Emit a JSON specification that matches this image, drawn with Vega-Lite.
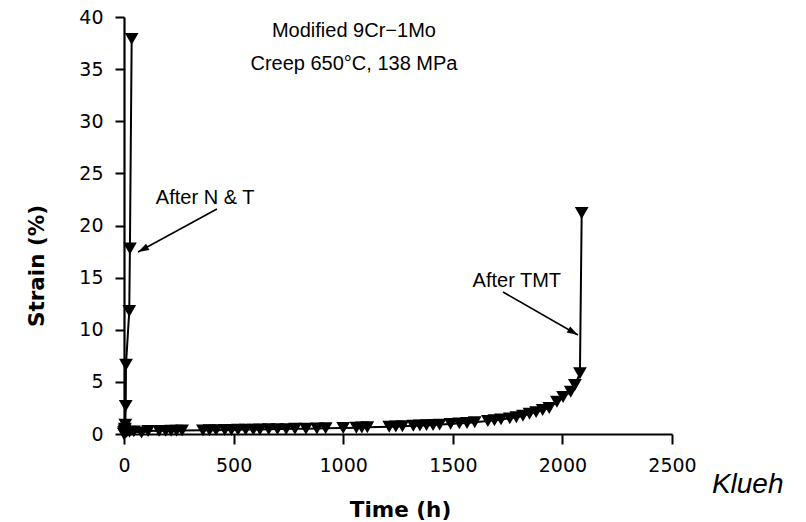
{
  "$schema": "https://vega.github.io/schema/vega-lite/v6.json",
  "width": 548,
  "height": 417,
  "autosize": {"type": "none"},
  "padding": {"left": 124, "top": 17, "right": 134, "bottom": 88},
  "background": "white",
  "config": {
    "view": {"stroke": null},
    "axis": {
      "grid": false,
      "domainColor": "black",
      "domainWidth": 2.2,
      "tickColor": "black",
      "tickWidth": 2,
      "labelColor": "black",
      "labelFont": "DejaVu Sans",
      "labelFontSize": 19,
      "labelFlush": false,
      "labelPadding": 12,
      "titleColor": "black",
      "titleFont": "DejaVu Sans",
      "titleFontWeight": "bold",
      "titleFontSize": 21.5,
      "titleAlign": "center",
      "titleBaseline": "alphabetic"
    },
    "axisX": {"tickSize": 10, "titleX": 276, "titleY": 82},
    "axisY": {"tickSize": 9, "titleAngle": 270, "titleX": -81, "titleY": 248.5}
  },
  "datasets": {
    "creep": [
      {"series": "N&T", "time": 0, "strain": 0},
      {"series": "N&T", "time": 1, "strain": 0.2},
      {"series": "N&T", "time": 2.5, "strain": 0.35},
      {"series": "N&T", "time": 4, "strain": 0.5},
      {"series": "N&T", "time": 6, "strain": 0.9},
      {"series": "N&T", "time": 7.8, "strain": 2.7},
      {"series": "N&T", "time": 9, "strain": 6.65},
      {"series": "N&T", "time": 24, "strain": 11.8},
      {"series": "N&T", "time": 27, "strain": 17.8},
      {"series": "N&T", "time": 35, "strain": 37.9},
      {"series": "TMT", "time": 0, "strain": 0.05},
      {"series": "TMT", "time": 5, "strain": 0.15},
      {"series": "TMT", "time": 12, "strain": 0.2},
      {"series": "TMT", "time": 25, "strain": 0.22},
      {"series": "TMT", "time": 45, "strain": 0.25},
      {"series": "TMT", "time": 80, "strain": 0.15},
      {"series": "TMT", "time": 110, "strain": 0.28},
      {"series": "TMT", "time": 160, "strain": 0.3},
      {"series": "TMT", "time": 190, "strain": 0.3},
      {"series": "TMT", "time": 215, "strain": 0.32},
      {"series": "TMT", "time": 240, "strain": 0.32},
      {"series": "TMT", "time": 265, "strain": 0.33},
      {"series": "TMT", "time": 360, "strain": 0.35},
      {"series": "TMT", "time": 390, "strain": 0.36},
      {"series": "TMT", "time": 420, "strain": 0.37},
      {"series": "TMT", "time": 460, "strain": 0.38},
      {"series": "TMT", "time": 490, "strain": 0.38},
      {"series": "TMT", "time": 520, "strain": 0.4},
      {"series": "TMT", "time": 555, "strain": 0.42},
      {"series": "TMT", "time": 590, "strain": 0.42},
      {"series": "TMT", "time": 620, "strain": 0.43},
      {"series": "TMT", "time": 660, "strain": 0.45},
      {"series": "TMT", "time": 700, "strain": 0.47},
      {"series": "TMT", "time": 740, "strain": 0.47},
      {"series": "TMT", "time": 780, "strain": 0.5},
      {"series": "TMT", "time": 830, "strain": 0.5},
      {"series": "TMT", "time": 880, "strain": 0.52},
      {"series": "TMT", "time": 920, "strain": 0.55},
      {"series": "TMT", "time": 1000, "strain": 0.58},
      {"series": "TMT", "time": 1060, "strain": 0.6},
      {"series": "TMT", "time": 1085, "strain": 0.62},
      {"series": "TMT", "time": 1110, "strain": 0.65},
      {"series": "TMT", "time": 1210, "strain": 0.7},
      {"series": "TMT", "time": 1240, "strain": 0.72},
      {"series": "TMT", "time": 1270, "strain": 0.75},
      {"series": "TMT", "time": 1320, "strain": 0.8},
      {"series": "TMT", "time": 1350, "strain": 0.82},
      {"series": "TMT", "time": 1380, "strain": 0.85},
      {"series": "TMT", "time": 1410, "strain": 0.87},
      {"series": "TMT", "time": 1440, "strain": 0.9},
      {"series": "TMT", "time": 1490, "strain": 0.97},
      {"series": "TMT", "time": 1530, "strain": 1.02},
      {"series": "TMT", "time": 1565, "strain": 1.06},
      {"series": "TMT", "time": 1600, "strain": 1.12},
      {"series": "TMT", "time": 1660, "strain": 1.25},
      {"series": "TMT", "time": 1690, "strain": 1.32},
      {"series": "TMT", "time": 1720, "strain": 1.4},
      {"series": "TMT", "time": 1760, "strain": 1.5},
      {"series": "TMT", "time": 1790, "strain": 1.6},
      {"series": "TMT", "time": 1820, "strain": 1.75},
      {"series": "TMT", "time": 1850, "strain": 1.95},
      {"series": "TMT", "time": 1880, "strain": 2.1},
      {"series": "TMT", "time": 1910, "strain": 2.3},
      {"series": "TMT", "time": 1940, "strain": 2.5},
      {"series": "TMT", "time": 1975, "strain": 3.1},
      {"series": "TMT", "time": 2003, "strain": 3.55},
      {"series": "TMT", "time": 2038, "strain": 4.06},
      {"series": "TMT", "time": 2057, "strain": 4.7},
      {"series": "TMT", "time": 2080, "strain": 5.82},
      {"series": "TMT", "time": 2088, "strain": 21.2}
    ],
    "arrows": [
      {"arrow": "N&T", "x1": 424, "y1": 21.58, "x2": 64, "y2": 17.46},
      {"arrow": "TMT", "x1": 1729, "y1": 13.62, "x2": 2071, "y2": 9.5}
    ],
    "notes": [
      {"note": "head", "text": "Modified 9Cr−1Mo", "x": 1049, "y": 38.1},
      {"note": "head", "text": "Creep 650°C, 138 MPa", "x": 1049, "y": 34.95},
      {"note": "nt", "text": "After N & T", "x": 370, "y": 22.06},
      {"note": "tmt", "text": "After TMT", "x": 1994, "y": 14.1},
      {"note": "author", "text": "Klueh", "x": 2682, "y": -5.66}
    ]
  },
  "layer": [
    {
      "data": {"name": "creep"},
      "mark": {"type": "line", "color": "black", "strokeWidth": 2},
      "encoding": {
        "x": {"field": "time", "type": "quantitative", "scale": {"domain": [0, 2500], "nice": false, "zero": false}, "axis": {"values": [0, 500, 1000, 1500, 2000, 2500], "format": "d", "title": "Time (h)"}},
        "y": {"field": "strain", "type": "quantitative", "scale": {"domain": [0, 40], "nice": false, "zero": false}, "axis": {"values": [0, 5, 10, 15, 20, 25, 30, 35, 40], "format": "d", "title": "Strain (%)"}},
        "detail": {"field": "series"},
        "order": {"field": "time", "type": "quantitative"}
      }
    },
    {
      "data": {"name": "creep"},
      "mark": {"type": "point", "shape": "triangle-down", "filled": true, "color": "black", "opacity": 1, "size": 190},
      "encoding": {
        "x": {"field": "time", "type": "quantitative", "scale": {"domain": [0, 2500], "nice": false, "zero": false}, "axis": {"values": [0, 500, 1000, 1500, 2000, 2500], "format": "d", "title": "Time (h)"}},
        "y": {"field": "strain", "type": "quantitative", "scale": {"domain": [0, 40], "nice": false, "zero": false}, "axis": {"values": [0, 5, 10, 15, 20, 25, 30, 35, 40], "format": "d", "title": "Strain (%)"}}
      }
    },
    {
      "data": {"name": "arrows"},
      "mark": {"type": "rule", "color": "black", "strokeWidth": 1.6},
      "encoding": {
        "x": {"field": "x1", "type": "quantitative", "scale": {"domain": [0, 2500], "nice": false, "zero": false}, "axis": {"values": [0, 500, 1000, 1500, 2000, 2500], "format": "d", "title": "Time (h)"}},
        "y": {"field": "y1", "type": "quantitative", "scale": {"domain": [0, 40], "nice": false, "zero": false}, "axis": {"values": [0, 5, 10, 15, 20, 25, 30, 35, 40], "format": "d", "title": "Strain (%)"}},
        "x2": {"field": "x2"},
        "y2": {"field": "y2"}
      }
    },
    {
      "data": {"name": "arrows"},
      "transform": [{"filter": "datum.arrow == 'N&T'"}],
      "mark": {"type": "point", "shape": "M0,0L-0.32,1L0.32,1Z", "filled": true, "color": "black", "opacity": 1, "size": 484, "angle": 241.8, "strokeWidth": 0},
      "encoding": {
        "x": {"field": "x2", "type": "quantitative", "scale": {"domain": [0, 2500], "nice": false, "zero": false}, "axis": {"values": [0, 500, 1000, 1500, 2000, 2500], "format": "d", "title": "Time (h)"}},
        "y": {"field": "y2", "type": "quantitative", "scale": {"domain": [0, 40], "nice": false, "zero": false}, "axis": {"values": [0, 5, 10, 15, 20, 25, 30, 35, 40], "format": "d", "title": "Strain (%)"}}
      }
    },
    {
      "data": {"name": "arrows"},
      "transform": [{"filter": "datum.arrow == 'TMT'"}],
      "mark": {"type": "point", "shape": "M0,0L-0.32,1L0.32,1Z", "filled": true, "color": "black", "opacity": 1, "size": 484, "angle": 120, "strokeWidth": 0},
      "encoding": {
        "x": {"field": "x2", "type": "quantitative", "scale": {"domain": [0, 2500], "nice": false, "zero": false}, "axis": {"values": [0, 500, 1000, 1500, 2000, 2500], "format": "d", "title": "Time (h)"}},
        "y": {"field": "y2", "type": "quantitative", "scale": {"domain": [0, 40], "nice": false, "zero": false}, "axis": {"values": [0, 5, 10, 15, 20, 25, 30, 35, 40], "format": "d", "title": "Strain (%)"}}
      }
    },
    {
      "data": {"name": "notes"},
      "transform": [{"filter": "datum.note == 'head' || datum.note == 'nt'"}],
      "mark": {"type": "text", "font": "Liberation Sans", "fontSize": 20, "color": "black", "align": "center", "baseline": "alphabetic"},
      "encoding": {
        "x": {"field": "x", "type": "quantitative", "scale": {"domain": [0, 2500], "nice": false, "zero": false}, "axis": {"values": [0, 500, 1000, 1500, 2000, 2500], "format": "d", "title": "Time (h)"}},
        "y": {"field": "y", "type": "quantitative", "scale": {"domain": [0, 40], "nice": false, "zero": false}, "axis": {"values": [0, 5, 10, 15, 20, 25, 30, 35, 40], "format": "d", "title": "Strain (%)"}},
        "text": {"field": "text"}
      }
    },
    {
      "data": {"name": "notes"},
      "transform": [{"filter": "datum.note == 'tmt'"}],
      "mark": {"type": "text", "font": "Liberation Sans", "fontSize": 20, "color": "black", "align": "right", "baseline": "alphabetic"},
      "encoding": {
        "x": {"field": "x", "type": "quantitative", "scale": {"domain": [0, 2500], "nice": false, "zero": false}, "axis": {"values": [0, 500, 1000, 1500, 2000, 2500], "format": "d", "title": "Time (h)"}},
        "y": {"field": "y", "type": "quantitative", "scale": {"domain": [0, 40], "nice": false, "zero": false}, "axis": {"values": [0, 5, 10, 15, 20, 25, 30, 35, 40], "format": "d", "title": "Strain (%)"}},
        "text": {"field": "text"}
      }
    },
    {
      "data": {"name": "notes"},
      "transform": [{"filter": "datum.note == 'author'"}],
      "mark": {"type": "text", "font": "Liberation Sans", "fontSize": 28, "fontStyle": "italic", "color": "black", "align": "left", "baseline": "alphabetic"},
      "encoding": {
        "x": {"field": "x", "type": "quantitative", "scale": {"domain": [0, 2500], "nice": false, "zero": false}, "axis": {"values": [0, 500, 1000, 1500, 2000, 2500], "format": "d", "title": "Time (h)"}},
        "y": {"field": "y", "type": "quantitative", "scale": {"domain": [0, 40], "nice": false, "zero": false}, "axis": {"values": [0, 5, 10, 15, 20, 25, 30, 35, 40], "format": "d", "title": "Strain (%)"}},
        "text": {"field": "text"}
      }
    }
  ]
}
